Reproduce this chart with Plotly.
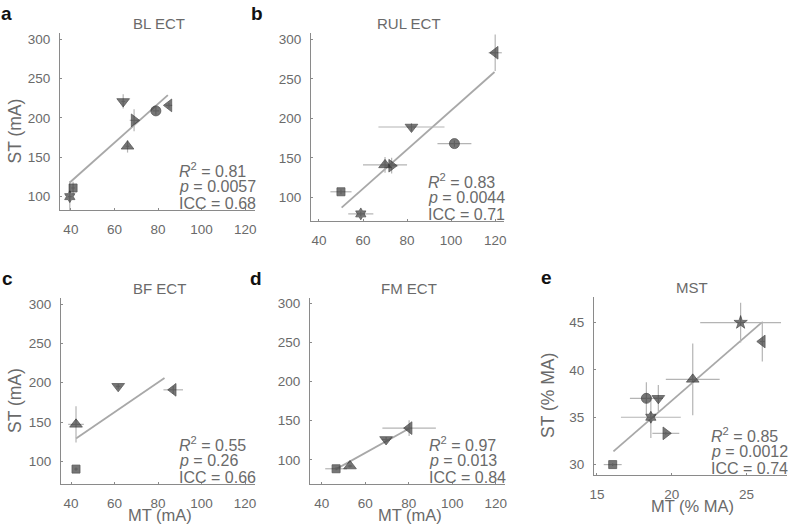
import plotly.graph_objects as go

W, H = 790, 531

# --- data ---
# a: BL ECT
a_sym = ['hexagram', 'square', 'triangle-up', 'triangle-down', 'triangle-right', 'circle', 'triangle-left']
a_x = [39.5, 41, 66, 64, 69, 79, 85]
a_y = [100, 111, 164, 221, 197, 209, 216]
a_xerr = [0.8, 0.8, 0.8, 0.8, 2, 1.5, 1.5]
a_yerr = [20, 8, 8, 9, 14, 5, 3]
a_fit_x = [39.5, 84.5]
a_fit_y = [118, 229]
a_stats = ['0.81', '0.0057', '0.68']

# b: RUL ECT
b_sym = ['hexagram', 'square', 'triangle-up', 'triangle-right', 'triangle-down', 'circle', 'triangle-left']
b_x = [59, 50, 70, 73, 82, 101.5, 120]
b_y = [79, 107, 141, 140, 189, 168, 283]
b_xerr = [5.7, 4.8, 10, 3, 15, 7.7, 3]
b_yerr = [3, 3, 10, 10, 5, 4, 23]
b_fit_x = [50.3, 119.7]
b_fit_y = [87, 258.6]
b_stats = ['0.83', '0.0044', '0.71']

# c: BF ECT
c_sym = ['square', 'triangle-up', 'triangle-down', 'triangle-left']
c_x = [42.3, 42.3, 61.7, 87]
c_y = [90, 147, 195.5, 191]
c_xerr = [0.8, 3.6, 1, 4.5]
c_yerr = [2, 23, 3, 5]
c_fit_x = [42.3, 83]
c_fit_y = [129, 206]
c_stats = ['0.55', '0.26', '0.66']

# d: FM ECT
d_sym = ['square', 'triangle-up', 'triangle-down', 'triangle-left']
d_x = [46.6, 53, 69.6, 80.2]
d_y = [88.5, 92, 126, 140.5]
d_xerr = [5, 1, 2, 12.3]
d_yerr = [2, 2, 3, 10]
d_fit_x = [46.6, 80.2]
d_fit_y = [88, 140]
d_stats = ['0.97', '0.013', '0.84']

# e: MST
e_sym = ['square', 'circle', 'triangle-down', 'hexagram', 'triangle-right', 'triangle-up', 'star', 'triangle-left']
e_x = [16.05, 18.3, 19.1, 18.6, 19.6, 21.4, 24.6, 26.05]
e_y = [30, 37, 37, 35, 33.3, 39, 45, 43]
e_xerr = [0.6, 1.1, 0.3, 2, 0.9, 1.8, 2.7, 0.15]
e_yerr = [0.15, 1.7, 1.4, 2.2, 0.15, 3.8, 2.1, 2.1]
e_fit_x = [16.1, 26]
e_fit_y = [31.4, 45]
e_stats = ['0.85', '0.0012', '0.74']

SIZES = {'square': 8, 'circle': 10, 'triangle-up': 11, 'triangle-down': 11,
         'triangle-left': 11, 'triangle-right': 11, 'hexagram': 9, 'star': 10}

FONT = 'Liberation Sans, Arial, sans-serif'
TXT = '#6a6a6a'
MARK = '#3d3d3d'
ERR = '#b4b4b4'

# (letter, title, data, px box [x0, x1, ytop, ybot], xrange, yrange, xticks, yticks, ylabel, xlabel)
panels = [
    ('a', 'BL ECT', (a_sym, a_x, a_y, a_xerr, a_yerr, a_fit_x, a_fit_y, a_stats),
     [60, 255, 33, 210], [35, 124.5], [83, 308], [40, 60, 80, 100, 120], [100, 150, 200, 250, 300],
     'ST (mA)', None),
    ('b', 'RUL ECT', (b_sym, b_x, b_y, b_xerr, b_yerr, b_fit_x, b_fit_y, b_stats),
     [311, 504, 33, 221], [36.4, 124], [70, 308], [40, 60, 80, 100, 120], [100, 150, 200, 250, 300],
     None, None),
    ('c', 'BF ECT', (c_sym, c_x, c_y, c_xerr, c_yerr, c_fit_x, c_fit_y, c_stats),
     [61, 255, 298, 484], [35.4, 124.6], [71, 308], [40, 60, 80, 100, 120], [100, 150, 200, 250, 300],
     'ST (mA)', 'MT (mA)'),
    ('d', 'FM ECT', (d_sym, d_x, d_y, d_xerr, d_yerr, d_fit_x, d_fit_y, d_stats),
     [310, 505, 298, 484], [34.6, 124.3], [69, 307], [40, 60, 80, 100, 120], [100, 150, 200, 250, 300],
     None, 'MT (mA)'),
    ('e', 'MST', (e_sym, e_x, e_y, e_xerr, e_yerr, e_fit_x, e_fit_y, e_stats),
     [594, 787, 297, 475], [14.8, 27.7], [28.9, 47.7], [15, 20, 25], [30, 35, 40, 45],
     'ST (% MA)', 'MT (% MA)'),
]


def px(x):
    return x / W


def py(y):
    return 1 - y / H


fig = go.Figure()
annots = []

for i, (letter, title, data, box, xr, yr, xt, yt, ylab, xlab) in enumerate(panels):
    sym, xs, ys, xe, ye, fx, fy, stats = data
    n = '' if i == 0 else str(i + 1)
    x0, x1, yt0, yb0 = box

    fig.add_trace(go.Scatter(x=fx, y=fy, mode='lines', line=dict(color='#a8a8a8', width=1.8),
                             xaxis='x' + n, yaxis='y' + n, showlegend=False, hoverinfo='skip'))
    fig.add_trace(go.Scatter(
        x=xs, y=ys, mode='markers', xaxis='x' + n, yaxis='y' + n, showlegend=False,
        marker=dict(symbol=sym, size=[SIZES[s] for s in sym], color=MARK,
                    line=dict(color='#151515', width=0.8)),
        error_x=dict(type='data', array=xe, width=0, thickness=1.2, color=ERR),
        error_y=dict(type='data', array=ye, width=0, thickness=1.2, color=ERR),
    ))

    common = dict(showgrid=False, zeroline=False, showline=True, linecolor='#8a8a8a', linewidth=1.2,
                  ticks='inside', ticklen=2, tickcolor='#8a8a8a', automargin=False,
                  tickfont=dict(family=FONT, size=13.5, color=TXT))
    fig.update_layout(**{
        'xaxis' + n: dict(domain=[px(x0), px(x1)], range=xr, tickvals=xt, anchor='y' + n,
                          ticklabelstandoff=7, **common),
        'yaxis' + n: dict(domain=[py(yb0), py(yt0)], range=yr, tickvals=yt, anchor='x' + n,
                          ticklabelstandoff=6, **common),
    })

    # panel letter and title
    annots.append(dict(text='<b>%s</b>' % letter, x=px(x0 - 54 if i != 4 else x0 - 48), y=py(yt0 - 20),
                       xanchor='center', yanchor='middle', font=dict(family=FONT, size=19, color='#111')))
    annots.append(dict(text=title, x=px((x0 + x1) / 2 + 1), y=py(yt0 - 10),
                       xanchor='center', yanchor='middle', font=dict(family=FONT, size=15, color=TXT)))

    # statistics
    lines = ['<i>R</i><sup>2</sup> = ' + stats[0], '<i>p</i> = ' + stats[1], 'ICC = ' + stats[2]]
    tx = x1 - 78
    for k, s in enumerate(lines):
        annots.append(dict(text=s, x=px(tx), y=py(yb0 - 40 + k * 16.5), xanchor='left', yanchor='middle',
                           font=dict(family=FONT, size=16, color=TXT)))

    if ylab:
        annots.append(dict(text=ylab, x=px(x0 - 46), y=py((yt0 + yb0) / 2 + 10), textangle=-90,
                           xanchor='center', yanchor='middle', font=dict(family=FONT, size=17.5, color=TXT)))
    if xlab:
        annots.append(dict(text=xlab, x=px((x0 + x1) / 2 + 2), y=py(yb0 + 31),
                           xanchor='center', yanchor='middle', font=dict(family=FONT, size=16.5, color=TXT)))

for a in annots:
    a.update(xref='paper', yref='paper', showarrow=False)

fig.update_layout(width=W, height=H, margin=dict(l=0, r=0, t=0, b=0),
                  paper_bgcolor='white', plot_bgcolor='white', annotations=annots)

# page has a default 8px body margin; drop it so the figure fills the window exactly
fig.write_html('out.html', config={'displayModeBar': False},
               post_script="document.body.style.margin='0';")
